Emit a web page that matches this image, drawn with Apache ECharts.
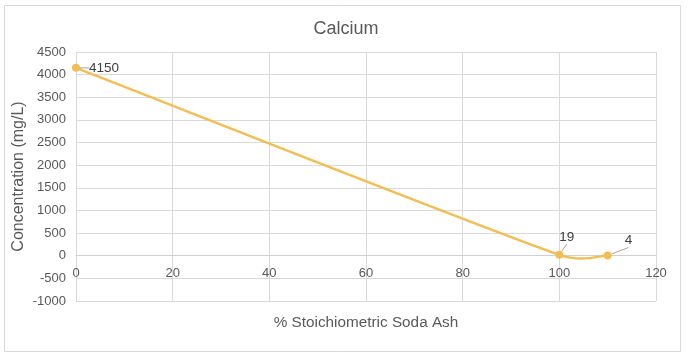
<!DOCTYPE html>
<html><head><meta charset="utf-8">
<script src="https://cdn.jsdelivr.net/npm/echarts@6/dist/echarts.min.js"></script>
<style>html,body{margin:0;padding:0;background:#fff}#c{width:692px;height:358px}</style>
</head><body><div id="c"></div>
<script>
const xValues = [0, 100, 110];
const calcium = [4150, 19, 4];
const title = 'Calcium';
const xName = '% Stoichiometric Soda Ash';
const yName = 'Concentration (mg/L)';
const font = 'Arial, "Liberation Sans", sans-serif';
const txt = '#595959';
const lineColor = '#F1BE55';
const points = xValues.map((x, i) => [x, calcium[i]]);
const yMin = -1000, yMax = 4500;

// Excel-like smoothed segment i -> i+1 computed in pixel space via the axes
function renderSegment(params, api) {
  const i = params.dataIndex;
  const n = points.length;
  if (i >= n - 1) return null;
  const P = points.map(p => api.coord(p));
  function tangent(k) {
    const a = P[Math.max(k - 1, 0)], b = P[Math.min(k + 1, n - 1)];
    return [(b[0] - a[0]) / 6, (b[1] - a[1]) / 6];
  }
  const p0 = P[i], p1 = P[i + 1];
  const segLen = Math.hypot(p1[0] - p0[0], p1[1] - p0[1]);
  function clamp(t) {
    const l = Math.hypot(t[0], t[1]);
    const m = segLen * 0.5;
    return l > m ? [t[0] * m / l, t[1] * m / l] : t;
  }
  const t0 = clamp(tangent(i)), t1 = clamp(tangent(i + 1));
  return {
    type: 'bezierCurve',
    shape: {x1: p0[0], y1: p0[1], cpx1: p0[0] + t0[0], cpy1: p0[1] + t0[1],
            cpx2: p1[0] - t1[0], cpy2: p1[1] - t1[1], x2: p1[0], y2: p1[1]},
    style: {stroke: lineColor, lineWidth: 2.5, fill: null},
    silent: true
  };
}

const chart = echarts.init(document.getElementById('c'), null, {renderer: 'canvas'});
chart.setOption({
  animation: false,
  textStyle: {fontFamily: font},
  graphic: [{type: 'rect', shape: {x: 4.5, y: 5.5, width: 676, height: 346}, style: {fill: 'none', stroke: '#d9d9d9', lineWidth: 1}, silent: true}],
  title: {text: title, left: 'center', top: 15, textStyle: {fontFamily: font, fontSize: 18, fontWeight: 'normal', color: txt}},
  grid: {left: 76, right: 36, top: 52, bottom: 57, containLabel: false, outerBoundsMode: 'none'},
  xAxis: {
    type: 'value', min: 0, max: 120, interval: 20,
    name: xName, nameLocation: 'middle', nameGap: 60, nameMoveOverlap: false,
    nameTextStyle: {fontFamily: font, fontSize: 15.3, color: txt},
    axisLine: {show: true, onZero: true, lineStyle: {color: '#d0d0d0'}},
    axisTick: {show: false},
    axisLabel: {fontFamily: font, fontSize: 13, color: txt, margin: 11, formatter: v => String(v)},
    splitLine: {show: true, lineStyle: {color: '#d9d9d9'}}
  },
  yAxis: {
    type: 'value', min: yMin, max: yMax, interval: 500,
    name: yName, nameLocation: 'middle', nameGap: 49, nameMoveOverlap: false,
    nameTextStyle: {fontFamily: font, fontSize: 16, color: txt},
    axisLine: {show: false, onZero: false}, axisTick: {show: false},
    axisLabel: {fontFamily: font, fontSize: 13, color: txt, margin: 10, formatter: v => String(v)},
    splitLine: {show: true, lineStyle: {color: '#d9d9d9'}}
  },
  series: [{
    type: 'custom',
    renderItem: renderSegment,
    data: points,
    encode: {x: 0, y: 1},
    z: 2
  }, {
    type: 'line',
    data: points,
    symbol: 'circle', symbolSize: 8,
    itemStyle: {color: lineColor},
    lineStyle: {width: 0, opacity: 0},
    z: 3,
    label: {show: true, position: 'right', distance: 9, fontFamily: font, fontSize: 13.5, color: '#404040', formatter: p => String(p.value[1])},
    labelLine: {show: true, lineStyle: {color: '#a6a6a6', width: 1}},
    labelLayout: function (p) {
      if (p.dataIndex === 1) return {dx: -13, dy: -18};
      if (p.dataIndex === 2) return {dx: 4, dy: -15};
      return {};
    }
  }]
});
// place the x axis where y = 0 (Excel crosses at zero)
const y0 = chart.convertToPixel({gridIndex: 0}, [0, 0])[1];
const yBottom = chart.convertToPixel({gridIndex: 0}, [0, yMin])[1];
chart.setOption({xAxis: {offset: y0 - yBottom}});
</script></body></html>
